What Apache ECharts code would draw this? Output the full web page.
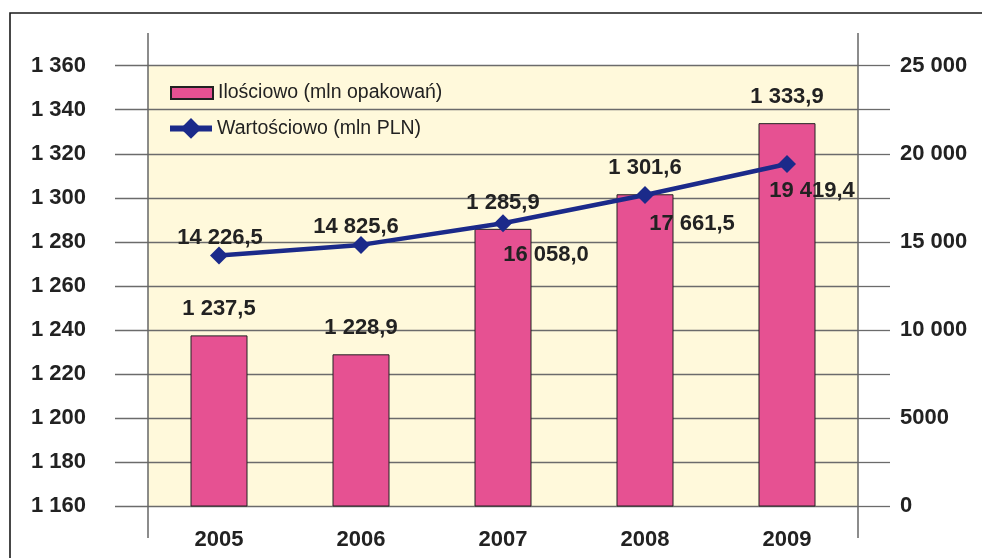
<!DOCTYPE html>
<html>
<head>
<meta charset="utf-8">
<script src="https://cdn.jsdelivr.net/npm/echarts@6/dist/echarts.min.js"></script>
<style>
  html, body { margin: 0; padding: 0; background: #fff; }
  #main { width: 982px; height: 558px; }
</style>
</head>
<body>
<div id="main"></div>
<script>
var chartDom = document.getElementById("main");
var myChart = echarts.init(chartDom);
var option;

const years = ["2005", "2006", "2007", "2008", "2009"];
const ilosciowo = [1237.5, 1228.9, 1285.9, 1301.6, 1333.9];
const wartosciowo = [14226.5, 14825.6, 16058.0, 17661.5, 19419.4];

const FONT = "Liberation Sans, Arial, sans-serif";
const NAME_BAR = "Ilościowo (mln opakowań)";
const NAME_LINE = "Wartościowo (mln PLN)";

// 1234.5 -> "1 234,5"
function group(v) {
  return String(v).replace(/\B(?=(\d{3})+(?!\d))/g, " ");
}
function fmt(v) {
  const parts = v.toFixed(1).split(".");
  return group(parts[0]) + "," + parts[1];
}

// label offsets for the line points (first two above, rest below-right)
const lineLabelPos = [
  { position: "top", distance: -2, offset: [1, 0] },
  { position: "top", distance: -2, offset: [-5, 0] },
  { position: "bottom", distance: 12, offset: [43, 0] },
  { position: "bottom", distance: 9, offset: [47, 0] },
  { position: "bottom", distance: 7, offset: [25, 0] },
];

const legendText = {
  fontFamily: FONT,
  fontSize: 19.5,
  color: "#222",
  lineHeight: 20,
};

option = {
  animation: false,
  textStyle: { fontFamily: FONT },
  graphic: [
    // outer frame
    {
      type: "polyline",
      silent: true,
      shape: { points: [[10, 600], [10, 13], [990, 13]] },
      style: { stroke: "#1a1a1a", lineWidth: 1.6, fill: null },
    },
    // axis posts above and below the plot area
    {
      type: "line",
      silent: true,
      shape: { x1: 148, y1: 33, x2: 148, y2: 538 },
      style: { stroke: "#666", lineWidth: 1.5 },
      z: 10,
    },
    {
      type: "line",
      silent: true,
      shape: { x1: 858, y1: 33, x2: 858, y2: 538 },
      style: { stroke: "#666", lineWidth: 1.5 },
      z: 10,
    },
  ],
  grid: {
    left: 148,
    right: 124,
    top: 65.7,
    bottom: 52,
    show: true,
    backgroundColor: "#FFF9DB",
    borderWidth: 0,
  },
  legend: [
    {
      left: 165,
      top: 78,
      itemWidth: 42,
      itemHeight: 12,
      itemGap: 7,
      textStyle: legendText,
      data: [{ name: NAME_BAR, icon: "rect" }],
    },
    {
      left: 162,
      top: 113,
      itemWidth: 42,
      itemHeight: 26,
      textStyle: legendText,
      lineStyle: { width: 6 },
      data: [{ name: NAME_LINE }],
    },
  ],
  xAxis: {
    type: "category",
    data: years,
    axisLine: { show: false },
    axisTick: { show: false },
    axisLabel: {
      margin: 23,
      fontSize: 22,
      fontWeight: "bold",
      color: "#222",
      fontFamily: FONT,
    },
  },
  yAxis: [
    {
      type: "value",
      min: 1160,
      max: 1360,
      interval: 20,
      axisLine: { show: false },
      axisTick: { show: true, length: 33, lineStyle: { color: "#6b6b6b", width: 1.3 } },
      splitLine: { show: true, lineStyle: { color: "#6b6b6b", width: 1.3 } },
      axisLabel: {
        margin: 62,
        fontSize: 22,
        fontWeight: "bold",
        color: "#222",
        fontFamily: FONT,
        formatter: function (v) {
          return group(v);
        },
      },
    },
    {
      type: "value",
      min: 0,
      max: 25000,
      interval: 2500,
      position: "right",
      axisLine: { show: false },
      axisTick: { show: true, length: 32, lineStyle: { color: "#6b6b6b", width: 1.3 } },
      splitLine: { show: false },
      axisLabel: {
        margin: 42,
        fontSize: 22,
        fontWeight: "bold",
        color: "#222",
        fontFamily: FONT,
        align: "left",
        formatter: function (v) {
          if (v % 5000 !== 0) return "";
          return v < 10000 ? String(v) : group(v);
        },
      },
    },
  ],
  series: [
    {
      name: NAME_BAR,
      type: "bar",
      yAxisIndex: 0,
      barWidth: 57,
      itemStyle: { color: "#E65192", borderColor: "#222", borderWidth: 1 },
      label: {
        show: true,
        position: "top",
        distance: 15,
        fontSize: 22,
        fontWeight: "bold",
        color: "#222",
        fontFamily: FONT,
        formatter: function (p) {
          return fmt(p.value);
        },
      },
      data: ilosciowo,
      z: 2,
    },
    {
      name: NAME_LINE,
      type: "line",
      yAxisIndex: 1,
      symbol: "diamond",
      symbolSize: 18,
      lineStyle: { color: "#1B2A8A", width: 4.5 },
      itemStyle: { color: "#1B2A8A" },
      label: {
        show: true,
        fontSize: 22,
        fontWeight: "bold",
        color: "#222",
        fontFamily: FONT,
        formatter: function (p) {
          return fmt(p.value);
        },
      },
      data: wartosciowo.map(function (v, i) {
        return { value: v, label: lineLabelPos[i] };
      }),
      z: 5,
    },
  ],
};

option && myChart.setOption(option);
</script>
</body>
</html>
